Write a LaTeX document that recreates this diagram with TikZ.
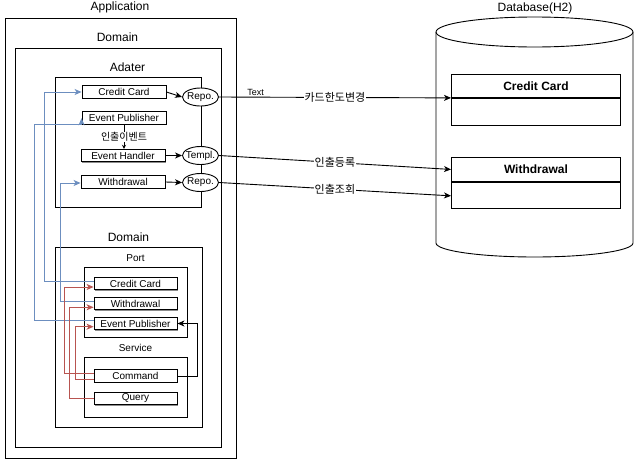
\documentclass[tikz,border=0pt]{standalone}
\usepackage{fontspec}
\setmainfont{Liberation Sans}
\newfontfamily\krfont{Noto Sans CJK KR}
\usetikzlibrary{arrows.meta,shapes.geometric,shadows,calc}
\definecolor{bl}{HTML}{6C8EBF}
\definecolor{rd}{HTML}{B85450}
\begin{document}
\begin{tikzpicture}[x=1pt,y=-1pt,
  frame/.style={draw, line width=0.9pt, inner sep=0pt, anchor=north west},
  sbox/.style={draw, line width=0.9pt, fill=white, minimum width=84pt, minimum height=12.5pt, inner sep=0pt,
    font=\fontsize{10}{12}\selectfont,
    drop shadow={shadow xshift=1.2pt, shadow yshift=-1.2pt, fill=black!45, opacity=1}},
  pbox/.style={sbox, minimum width=83pt},
  oval/.style={ellipse, draw, line width=0.9pt, fill=white, minimum width=36pt, minimum height=18pt, inner sep=0pt,
    font=\fontsize{10}{12}\selectfont},
  ttl/.style={font=\fontsize{12}{14}\selectfont, inner sep=0pt},
  sttl/.style={font=\fontsize{10}{12}\selectfont, inner sep=0pt},
  arr/.style={line width=0.9pt, -{Stealth[length=7pt,width=6pt,inset=2pt]}},
  barr/.style={arr, draw=bl},
  rarr/.style={arr, draw=rd},
  elbl/.style={fill=white, inner sep=0.5pt, font=\krfont\fontsize{11}{13}\selectfont},
  tblt/.style={draw, line width=0.9pt, fill=white, minimum width=169pt, inner sep=0pt, anchor=north west,
    font=\bfseries\fontsize{12}{14}\selectfont},
  tblb/.style={draw, line width=0.9pt, fill=white, minimum width=169pt, inner sep=0pt, anchor=north}
]
\useasboundingbox (0,0) rectangle (642,463);
\fill[white] (0,0) rectangle (642,463);

% containers
\node[frame, minimum width=231pt, minimum height=440pt] (app) at (5,18) {};
\node[ttl] (applbl) at (120,7.5) {Application};
\node[frame, minimum width=205.7pt, minimum height=399pt] (domo) at (15,48) {};
\node[ttl] (domolbl) at (117.5,37) {Domain};
\node[frame, minimum width=145.5pt, minimum height=130pt] (adp) at (55,77) {};
\node[ttl] (adplbl) at (127.5,67) {Adater};
\node[frame, minimum width=147pt, minimum height=180pt] (domi) at (55,247) {};
\node[ttl] (domilbl) at (128.5,237) {Domain};
\node[frame, minimum width=103pt, minimum height=70pt] (port) at (84,267) {};
\node[sttl] (portlbl) at (135.5,258) {Port};
\node[frame, minimum width=103pt, minimum height=60pt] (svc) at (84,357) {};
\node[sttl] (svclbl) at (135.5,348) {Service};

% adapter boxes
\node[sbox] (acc) at (124,92) {Credit Card};
\node[sbox] (aep) at (124,118) {Event Publisher};
\node[sbox] (aeh) at (123,155.5) {Event Handler};
\node[sbox] (awd) at (123,182) {Withdrawal};

\node[oval] (repo1) at (200.5,97) {\makebox[20pt]{Repo.}};
\node[oval] (templ) at (200.5,155.5) {\makebox[20pt]{Templ.}};
\node[oval] (repo2) at (200.5,182.5) {\makebox[20pt]{Repo.}};

% port boxes
\node[pbox] (pcc) at (135.5,283.5) {Credit Card};
\node[pbox] (pwd) at (135.5,303.5) {Withdrawal};
\node[pbox] (pep) at (135.5,323.5) {Event Publisher};
\node[pbox] (pcmd) at (135.5,376) {Command};
\node[pbox] (pq) at (135.5,398.5) {Query};

% database
\draw[line width=0.9pt, fill=white] (436,32) -- (436,243)
  arc[start angle=180, end angle=360, x radius=98.5pt, y radius=14pt]
  -- (633,32) arc[start angle=0, end angle=180, x radius=98.5pt, y radius=15pt] -- cycle;
\draw[line width=0.9pt] (436,32) arc[start angle=180, end angle=360, x radius=98.5pt, y radius=15pt];
\node[ttl] (dblbl) at (535,8) {Database(H2)};

\node[tblt, minimum height=23pt] (dbcct) at (451,74) {Credit Card};
\node[tblb, minimum height=27pt] (dbccb) at (dbcct.south) {};
\node[tblt, minimum height=24pt] (dbwdt) at (451,157) {Withdrawal};
\node[tblb, minimum height=26pt] (dbwdb) at (dbwdt.south) {};

% adapter internal edges
\draw[arr] (acc.east) -- (repo1.west);
\draw[arr] (aeh.east) -- (templ.west);
\draw[arr] (awd.east) -- (repo2.west);
\draw[line width=0.9pt, -{Stealth[length=4pt,width=4pt]}] (aep.south) -- node[elbl, font=\krfont\fontsize{10}{12}\selectfont] (evlbl) {인출이벤트} (aep.south |- aeh.north);

% adapter -> DB
\draw[arr] (repo1.east) -- node[elbl, pos=0.5] (l1) {카드한도변경} (dbcct.south west);
\node[font=\fontsize{9}{11}\selectfont, inner sep=0pt] (textlbl) at (255.5,92.5) {Text};
\draw[arr] (templ.east) -- node[elbl] (l2) {인출등록} (dbwdt.west);
\draw[arr] (repo2.east) -- node[elbl] (l3) {인출조회} ($(dbwdb.west)+(0,0.5)$);

% blue edges
\draw[barr] ([yshift=2.5pt]pcc.west) -| ([xshift=-37pt]acc.west) -- (acc.west);
\draw[barr] ([yshift=2.5pt]pwd.west) -| ([xshift=-20pt,yshift=-1pt]awd.west) -- ([yshift=-1pt]awd.west);
\draw[barr] ([yshift=3.5pt]pep.west) -| ([xshift=-47pt]aep.south west) -- (aep.south west) -- ([yshift=6.5pt]aep.south west);

% red edges
\draw[rarr] ([yshift=2.7pt]pcmd.west) -| ([xshift=-29pt,yshift=-3.5pt]pcc.west) -- ([yshift=-3.5pt]pcc.west);
\draw[rarr] ([yshift=-3.3pt]pcmd.west) -| ([xshift=-18pt,yshift=-3.2pt]pep.west) -- ([yshift=-3.2pt]pep.west);
\draw[rarr] (pq.west) -| ([xshift=-24pt,yshift=-3.8pt]pwd.west) -- ([yshift=-3.8pt]pwd.west);

% black edge
\draw[arr] (pcmd.east) -| ([xshift=20pt]pep.east) -- (pep.east);
\end{tikzpicture}
\end{document}
